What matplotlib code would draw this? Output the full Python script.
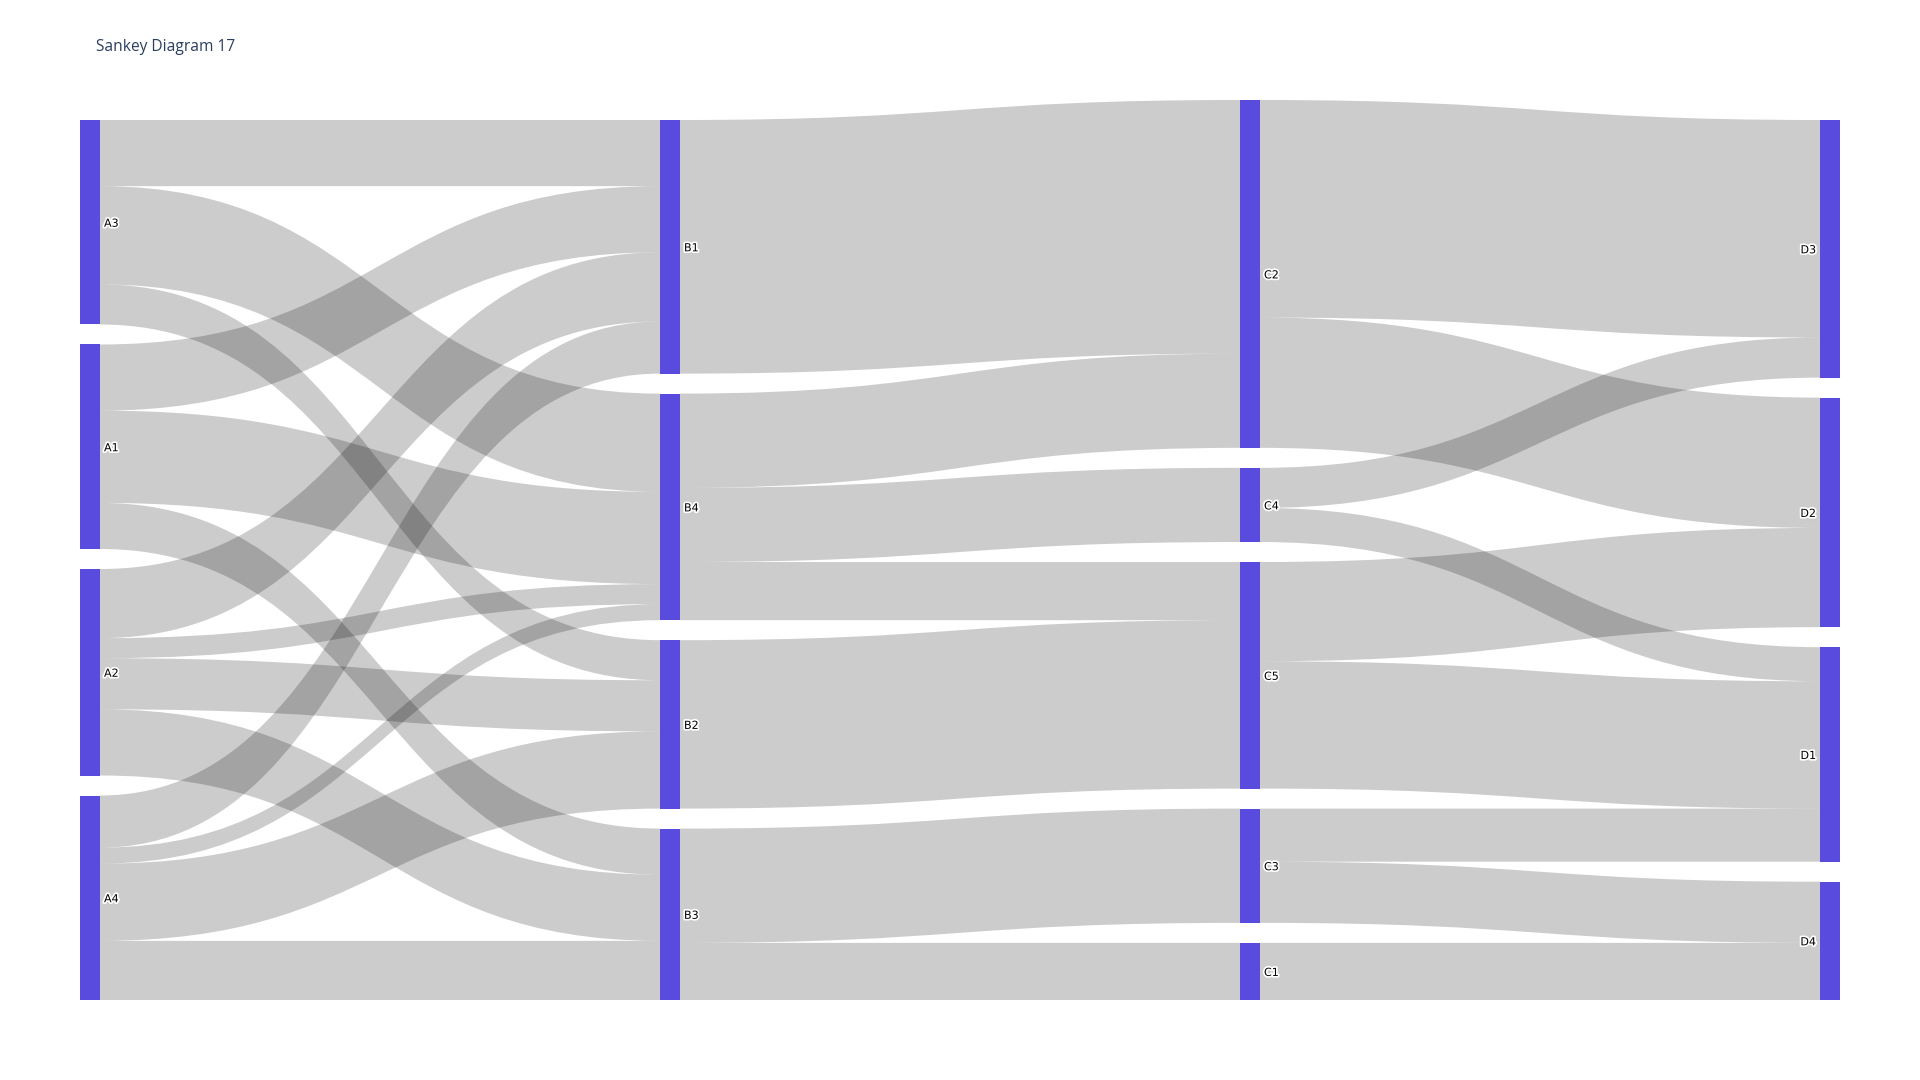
import numpy as np
import matplotlib.pyplot as plt
from matplotlib.path import Path
from matplotlib.patches import PathPatch, Rectangle
import matplotlib.patheffects as pe

# nodes, top to bottom inside each column
labels = ['A3', 'A1', 'A2', 'A4',
          'B1', 'B4', 'B2', 'B3',
          'C2', 'C4', 'C5', 'C3', 'C1',
          'D3', 'D2', 'D1', 'D4']
columns = [0, 0, 0, 0,
           1, 1, 1, 1,
           2, 2, 2, 2, 2,
           3, 3, 3, 3]

# links
link_src = ['A3', 'A3', 'A3',
            'A1', 'A1', 'A1',
            'A2', 'A2', 'A2', 'A2',
            'A4', 'A4', 'A4', 'A4',
            'B1', 'B4', 'B4', 'B4', 'B2', 'B3', 'B3',
            'C2', 'C2', 'C4', 'C4', 'C5', 'C5', 'C3', 'C3', 'C1']
link_tgt = ['B1', 'B4', 'B2',
            'B1', 'B4', 'B3',
            'B1', 'B4', 'B2', 'B3',
            'B1', 'B4', 'B2', 'B3',
            'C2', 'C2', 'C4', 'C5', 'C5', 'C3', 'C1',
            'D3', 'D2', 'D3', 'D1', 'D2', 'D1', 'D1', 'D4', 'D4']
link_val = [66, 98, 40,
            66, 92, 46,
            69, 20, 51, 66,
            52, 16, 77, 59,
            253, 94, 74, 58, 168, 114, 57,
            217, 130, 40, 34, 99, 127, 53, 61, 57]

title = 'Sankey Diagram 17'

# layout settings (pixels)
W, H = 1920, 1080
left, col_step, node_w = 80, 580, 20
top, bottom, pad = 100, 1000, 20
node_color = '#5a4bdf'
link_color = (0, 0, 0, 0.2)

idx = {l: i for i, l in enumerate(labels)}
n = len(labels)
vin = np.zeros(n)
vout = np.zeros(n)
for s, t, v in zip(link_src, link_tgt, link_val):
    vout[idx[s]] += v
    vin[idx[t]] += v
nval = np.maximum(vin, vout)

ncol = max(columns) + 1
ky = min((bottom - top - pad * (columns.count(c) - 1)) / nval[[i for i in range(n) if columns[i] == c]].sum()
         for c in range(ncol))

x0 = np.array([left + c * col_step for c in columns], dtype=float)
y0 = np.zeros(n)
y1 = np.zeros(n)
for c in range(ncol):
    ids = [i for i in range(n) if columns[i] == c]
    y = bottom
    for i in reversed(ids):
        y1[i] = y
        y0[i] = y - nval[i] * ky
        y = y0[i] - pad
yc = (y0 + y1) / 2

fig = plt.figure(figsize=(W / 100, H / 100), dpi=100)
ax = fig.add_axes([0, 0, 1, 1])
ax.set_xlim(0, W)
ax.set_ylim(H, 0)
ax.axis('off')

# link offsets, ordered like plotly (by the other end's position)
links = list(range(len(link_val)))
src_off = {}
tgt_off = {}
for i in range(n):
    outs = sorted([k for k in links if idx[link_src[k]] == i], key=lambda k: yc[idx[link_tgt[k]]])
    y = y0[i]
    for k in outs:
        src_off[k] = y
        y += link_val[k] * ky
    ins = sorted([k for k in links if idx[link_tgt[k]] == i], key=lambda k: yc[idx[link_src[k]]])
    y = y0[i]
    for k in ins:
        tgt_off[k] = y
        y += link_val[k] * ky

for k in links:
    s, t = idx[link_src[k]], idx[link_tgt[k]]
    w = link_val[k] * ky
    xa = x0[s] + node_w
    xb = x0[t]
    xm = (xa + xb) / 2
    ya, yb = src_off[k], tgt_off[k]
    verts = [(xa, ya), (xm, ya), (xm, yb), (xb, yb),
             (xb, yb + w), (xm, yb + w), (xm, ya + w), (xa, ya + w), (xa, ya)]
    codes = [Path.MOVETO, Path.CURVE4, Path.CURVE4, Path.CURVE4,
             Path.LINETO, Path.CURVE4, Path.CURVE4, Path.CURVE4, Path.CLOSEPOLY]
    ax.add_patch(PathPatch(Path(verts, codes), facecolor=link_color, edgecolor='none', lw=0))

halo = [pe.withStroke(linewidth=2.5, foreground='white')]
for i in range(n):
    ax.add_patch(Rectangle((x0[i], y0[i]), node_w, y1[i] - y0[i], facecolor=node_color, edgecolor='none'))
    if columns[i] == ncol - 1:
        ax.text(x0[i] - 4, yc[i] + 1.5, labels[i], ha='right', va='center', fontsize=8,
                color='black', path_effects=halo)
    else:
        ax.text(x0[i] + node_w + 4, yc[i] + 1.5, labels[i], ha='left', va='center', fontsize=8,
                color='black', path_effects=halo)

ax.text(96, 47, title, ha='left', va='center', fontsize=11.2, color='#2a3f5f', family='Open Sans')

fig.savefig('out.png', dpi=100)
